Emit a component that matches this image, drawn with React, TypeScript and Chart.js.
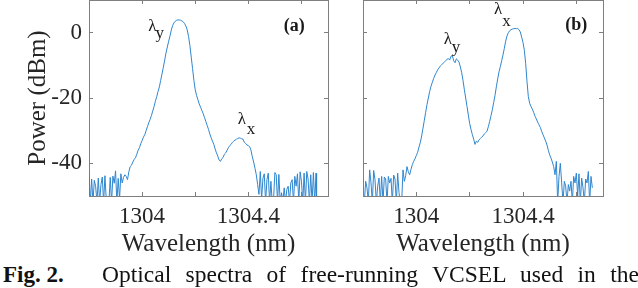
import React, { useEffect, useRef } from 'react';
import { Chart, registerables } from 'chart.js';

Chart.register(...registerables);

// ---- data (wavelength nm, power dBm) ----
const spectrumA: [number, number][] = [
  [1303.800,-42.6],[1303.805,-52],[1303.810,-44.8],[1303.815,-52],[1303.820,-45.2],[1303.825,-47.0],[1303.830,-52],[1303.835,-44.5],[1303.840,-52],[1303.845,-46.5],[1303.850,-44.2],[1303.855,-52],[1303.860,-43.8],[1303.865,-51],[1303.870,-52],[1303.875,-52],[1303.880,-44.3],[1303.885,-52],[1303.890,-43.9],[1303.895,-46.1],[1303.900,-42.3],[1303.905,-52],[1303.910,-44.6],[1303.915,-51],[1303.920,-43.2],
  [1303.925,-46.0],[1303.930,-44.3],[1303.935,-43.5],[1303.940,-44.0],[1303.945,-45.0],[1303.950,-42.6],[1303.955,-41.0],[1303.960,-40.6],[1303.965,-39.6],[1303.970,-38.8],[1303.975,-38.3],[1303.980,-37.2],[1303.985,-36.0],[1303.990,-35.2],[1303.995,-34.0],[1304.000,-33.0],[1304.005,-32.0],[1304.010,-31.2],[1304.015,-30.0],[1304.020,-28.8],[1304.025,-27.6],[1304.030,-26.6],[1304.035,-25.4],[1304.040,-24.0],[1304.045,-22.6],[1304.050,-21.0],[1304.055,-19.6],[1304.060,-18.0],[1304.065,-16.6],[1304.070,-14.6],[1304.075,-12.6],[1304.080,-10.6],[1304.085,-8.4],[1304.090,-6.2],[1304.095,-4.4],[1304.100,-2.6],[1304.105,-1.0],[1304.110,0.8],[1304.115,2.2],[1304.120,3.0],[1304.125,3.5],[1304.130,3.8],[1304.135,3.9],[1304.140,3.9],[1304.145,3.8],[1304.150,3.6],[1304.155,3.3],[1304.160,2.8],[1304.165,2.0],[1304.170,0.8],[1304.175,-1.2],[1304.180,-4.0],[1304.185,-7.5],[1304.190,-11.0],[1304.195,-14.6],[1304.200,-17.5],[1304.205,-19.2],[1304.210,-20.5],[1304.215,-21.8],[1304.220,-22.8],[1304.225,-23.8],[1304.230,-24.8],[1304.235,-26.0],[1304.240,-27.2],[1304.245,-28.4],[1304.250,-29.6],[1304.255,-31.0],[1304.260,-32.2],[1304.265,-33.2],[1304.270,-34.2],[1304.275,-35.6],[1304.280,-36.8],[1304.285,-37.8],[1304.290,-39.0],[1304.295,-39.4],[1304.300,-38.6],[1304.305,-38.2],[1304.310,-37.2],[1304.315,-36.8],[1304.320,-36.0],[1304.325,-35.2],[1304.330,-34.6],[1304.335,-34.2],[1304.340,-33.6],[1304.345,-33.2],[1304.350,-32.9],[1304.355,-32.6],[1304.360,-32.4],[1304.365,-32.2],[1304.370,-32.3],[1304.375,-32.5],[1304.380,-32.6],[1304.385,-33.6],[1304.390,-33.9],[1304.395,-34.4],[1304.400,-34.6],[1304.405,-34.9],[1304.410,-36.0],[1304.415,-38.0],[1304.420,-39.6],[1304.425,-41.5],[1304.430,-43.5],[1304.435,-46.5],[1304.440,-49.5],
  [1304.445,-42.5],[1304.450,-51],[1304.455,-44.5],[1304.460,-43.2],[1304.465,-52],[1304.470,-45.0],[1304.475,-43.0],[1304.480,-52],[1304.485,-45.5],[1304.490,-52],[1304.495,-51],[1304.500,-42.8],[1304.505,-43.5],[1304.510,-52],[1304.515,-43.4],[1304.520,-52],[1304.525,-49.0],[1304.530,-52],[1304.535,-47.5],[1304.540,-52],[1304.545,-48.0],[1304.550,-47.0],[1304.555,-52],[1304.560,-46.0],[1304.565,-45.0],[1304.570,-52],[1304.575,-44.0],[1304.580,-47.0],[1304.585,-43.2],[1304.590,-52],[1304.595,-42.6],[1304.600,-45.5],[1304.605,-52],[1304.610,-43.0],[1304.615,-52],[1304.620,-42.5],[1304.625,-44.8],[1304.630,-52],[1304.635,-43.5],[1304.640,-52],[1304.645,-42.8],[1304.650,-52],[1304.655,-43.0],[1304.657,-52],
];

const spectrumB: [number, number][] = [
  [1303.800,-50.5],[1303.805,-52],[1303.810,-45.5],[1303.815,-47.5],[1303.820,-52],[1303.825,-42.0],[1303.830,-46.0],[1303.835,-52],[1303.840,-42.2],[1303.845,-45.0],[1303.850,-52],[1303.855,-47.0],[1303.860,-44.5],[1303.865,-52],[1303.870,-44.0],[1303.875,-52],[1303.880,-44.2],[1303.885,-44.8],[1303.890,-52],[1303.895,-44.0],[1303.900,-46.0],[1303.905,-44.6],[1303.910,-52],[1303.915,-43.6],[1303.920,-44.8],[1303.925,-52],[1303.930,-43.0],[1303.935,-49.0],[1303.940,-52],[1303.945,-52],[1303.950,-42.0],[1303.955,-45.5],[1303.960,-43.8],[1303.965,-41.0],[1303.970,-42.6],[1303.975,-43.5],
  [1303.980,-41.8],[1303.985,-40.4],[1303.990,-39.4],[1303.995,-38.6],[1304.000,-37.6],[1304.005,-36.6],[1304.010,-35.0],[1304.015,-33.6],[1304.020,-31.6],[1304.025,-29.2],[1304.030,-26.8],[1304.035,-24.4],[1304.040,-22.0],[1304.045,-20.0],[1304.050,-18.0],[1304.055,-16.4],[1304.060,-15.2],[1304.065,-14.0],[1304.070,-13.0],[1304.075,-12.2],[1304.080,-11.4],[1304.085,-10.8],[1304.090,-10.2],[1304.095,-9.8],[1304.100,-9.4],[1304.105,-9.0],[1304.110,-8.6],[1304.115,-8.2],[1304.120,-7.9],[1304.125,-8.4],[1304.130,-7.2],[1304.135,-7.0],[1304.140,-8.6],[1304.145,-9.2],[1304.150,-8.0],[1304.155,-8.4],[1304.160,-9.0],[1304.165,-10.5],[1304.170,-12.2],[1304.175,-14.6],[1304.180,-17.4],[1304.185,-20.0],[1304.190,-22.6],[1304.195,-25.2],[1304.200,-27.8],[1304.205,-29.6],[1304.210,-31.2],[1304.215,-32.6],[1304.220,-34.2],[1304.225,-33.2],[1304.230,-33.6],[1304.235,-32.8],[1304.240,-32.4],[1304.245,-32.0],[1304.250,-31.6],[1304.255,-31.0],[1304.260,-30.6],[1304.265,-30.2],[1304.270,-28.8],[1304.275,-27.2],[1304.280,-25.4],[1304.285,-23.6],[1304.290,-21.4],[1304.295,-19.2],[1304.300,-16.6],[1304.305,-14.2],[1304.310,-12.0],[1304.315,-10.4],[1304.320,-8.6],[1304.325,-6.8],[1304.330,-4.8],[1304.335,-2.6],[1304.340,-1.0],[1304.345,0.0],[1304.350,0.6],[1304.355,0.9],[1304.360,1.1],[1304.365,1.2],[1304.370,1.3],[1304.375,1.2],[1304.380,1.3],[1304.385,0.9],[1304.390,0.2],[1304.395,-1.4],[1304.400,-3.0],[1304.405,-5.4],[1304.410,-9.4],[1304.415,-15.0],[1304.420,-19.6],[1304.425,-21.6],[1304.430,-22.6],[1304.435,-23.4],[1304.440,-24.4],[1304.445,-25.6],[1304.450,-26.4],[1304.455,-27.4],[1304.460,-28.2],[1304.465,-29.0],[1304.470,-30.2],[1304.475,-31.2],[1304.480,-32.2],[1304.485,-33.2],[1304.490,-34.4],[1304.495,-36.0],[1304.500,-37.4],[1304.505,-38.4],[1304.510,-39.6],[1304.515,-41.0],
  [1304.520,-43.5],[1304.525,-39.4],[1304.530,-52],[1304.535,-44.0],[1304.540,-40.0],[1304.545,-46.0],[1304.550,-52],[1304.555,-45.5],[1304.560,-47.0],[1304.565,-52],[1304.570,-46.5],[1304.575,-48.5],[1304.580,-45.5],[1304.585,-52],[1304.590,-44.0],[1304.595,-46.0],[1304.600,-43.0],[1304.605,-50.0],[1304.610,-43.2],[1304.615,-52],[1304.620,-44.5],[1304.625,-47.5],[1304.630,-52],[1304.635,-44.8],[1304.640,-46.0],[1304.645,-42.5],[1304.650,-52],[1304.655,-44.0],[1304.660,-47.5],
];

const xRange = [1303.8, 1304.7];
const yRange = [-50, 10];
const xTickValues = [1304, 1304.2, 1304.4, 1304.6];
const xTickLabels = ['1304', '', '1304.4', ''];
const yTickValues = [-40, -20, 0];
const yTickLabels = ['-40', '-20', '0'];

type Note = { text: string; sub?: string; x: number; y: number; dx?: number; dy?: number; bold?: boolean };
const notesA: Note[] = [
  { text: 'λ', sub: 'y', x: 1304.039, y: 1.8, dx: 7.2, dy: 7 },
  { text: 'λ', sub: 'x', x: 1304.376, y: -26.7, dx: 9, dy: 9.5 },
  { text: '(a)', x: 1304.573, y: 2.0, bold: true },
];
const notesB: Note[] = [
  { text: 'λ', sub: 'y', x: 1304.118, y: -2.2, dx: 8.3, dy: 8 },
  { text: 'λ', sub: 'x', x: 1304.307, y: 7.2, dx: 8.3, dy: 12 },
  { text: '(b)', x: 1304.6, y: 2.2, bold: true },
];

const FONT = "'Liberation Serif', Tinos, 'DejaVu Serif', 'Noto Serif', serif";
const AXIS = '#7f7f7f';
const TEXT = '#262626';
const LINE = '#2f86cf';

const notePlugin = {
  id: 'notes',
  afterDatasetsDraw(chart: any, _args: any, opts: any) {
    const { ctx, scales } = chart;
    const items: Note[] = opts.items || [];
    ctx.save();
    ctx.fillStyle = '#1a1a1a';
    ctx.textAlign = 'center';
    ctx.textBaseline = 'middle';
    for (const it of items) {
      const px = scales.x.getPixelForValue(it.x);
      const py = scales.y.getPixelForValue(it.y);
      ctx.font = it.bold ? `bold 18px ${FONT}` : `17px ${FONT}`;
      ctx.fillText(it.text, px, py);
      if (it.sub) {
        ctx.font = `17px ${FONT}`;
        ctx.fillText(it.sub, px + (it.dx || 0), py + (it.dy || 0));
      }
    }
    ctx.restore();
  },
};

function zeroPad(scale: any) {
  scale.paddingLeft = 0; scale.paddingRight = 0; scale.paddingTop = 0; scale.paddingBottom = 0;
}

function makeConfig(data: [number, number][], notes: Note[], yAxisWidth: number, showYLabels: boolean, rightPad: number, xAxisHeight: number) {
  const grid = { drawOnChartArea: false, drawTicks: true, tickLength: -4, color: AXIS, lineWidth: 1 };
  const border = { display: true, color: AXIS, width: 1 };
  return {
    type: 'line',
    data: {
      datasets: [{
        data: data.map(([x, y]) => ({ x, y })),
        borderColor: LINE,
        borderWidth: 1,
        pointRadius: 0,
        tension: 0,
        fill: false,
      }],
    },
    options: {
      responsive: false,
      animation: false,
      events: [],
      font: { family: FONT },
      layout: { padding: { left: 0, right: rightPad, top: 0, bottom: 0 } },
      plugins: { legend: { display: false }, tooltip: { enabled: false }, notes: { items: notes } },
      scales: {
        x: {
          type: 'linear', position: 'bottom', min: xRange[0], max: xRange[1],
          grid, border,
          afterBuildTicks: (s: any) => { s.ticks = xTickValues.map((v) => ({ value: v })); },
          afterFit: (s: any) => { s.height = xAxisHeight; zeroPad(s); },
          ticks: {
            autoSkip: false, maxRotation: 0, padding: 11.5, color: TEXT,
            font: { family: FONT, size: 23 },
            callback: (_v: any, i: number) => xTickLabels[i],
          },
          title: { display: true, text: 'Wavelength (nm)', color: TEXT, font: { family: FONT, size: 25 }, padding: { top: 0, bottom: 3 } },
        },
        x2: {
          type: 'linear', position: 'top', min: xRange[0], max: xRange[1],
          grid, border,
          afterBuildTicks: (s: any) => { s.ticks = xTickValues.map((v) => ({ value: v })); },
          afterFit: (s: any) => { s.height = 0; zeroPad(s); },
          ticks: { display: false },
        },
        y: {
          type: 'linear', position: 'left', min: yRange[0], max: yRange[1],
          grid, border,
          afterBuildTicks: (s: any) => { s.ticks = yTickValues.map((v) => ({ value: v })); },
          afterFit: (s: any) => { s.width = yAxisWidth; zeroPad(s); },
          ticks: {
            display: showYLabels, autoSkip: false, padding: 11, color: TEXT,
            font: { family: FONT, size: 23 },
            callback: (_v: any, i: number) => yTickLabels[i],
          },
          title: { display: showYLabels, text: 'Power (dBm)', color: TEXT, font: { family: FONT, size: 25 }, padding: { top: 23, bottom: 0 } },
        },
        y2: {
          type: 'linear', position: 'right', min: yRange[0], max: yRange[1],
          grid, border,
          afterBuildTicks: (s: any) => { s.ticks = yTickValues.map((v) => ({ value: v })); },
          afterFit: (s: any) => { s.width = 0; zeroPad(s); },
          ticks: { display: false },
        },
      },
    },
    plugins: [notePlugin],
  } as any;
}

function Panel(props: { left: number; width: number; height: number; config: any }) {
  const ref = useRef<HTMLCanvasElement | null>(null);
  useEffect(() => {
    if (!ref.current) return;
    const chart = new Chart(ref.current, props.config);
    return () => chart.destroy();
  }, []);
  return (
    <canvas
      ref={ref}
      width={props.width}
      height={props.height}
      style={{ position: 'absolute', left: props.left, top: 0, width: props.width, height: props.height }}
    />
  );
}

export default function App() {
  const H = 262;
  Chart.defaults.font.family = FONT;
  const cfgA = makeConfig(spectrumA, notesA, 89, true, 12, H - 196);
  const cfgB = makeConfig(spectrumB, notesB, 23, false, 35, H - 196);
  return (
    <div style={{ position: 'fixed', left: 0, top: 0, width: 638, height: 288, background: '#fff', overflow: 'hidden', fontFamily: FONT }}>
      <Panel left={0} width={340} height={H} config={cfgA} />
      <Panel left={340} width={298} height={H} config={cfgB} />
      <div style={{ position: 'absolute', left: 3, top: 262.7, fontFamily: FONT, fontWeight: 'bold', fontSize: 23, lineHeight: '23px', whiteSpace: 'nowrap', color: '#111' }}>
        Fig. 2.
      </div>
      <div style={{ position: 'absolute', left: 102, top: 262.7, width: 537, fontFamily: FONT, fontSize: 23.5, lineHeight: '23px', textAlign: 'justify', textAlignLast: 'justify' as any, color: '#111' }}>
        Optical spectra of free-running VCSEL used in the
      </div>
    </div>
  );
}
